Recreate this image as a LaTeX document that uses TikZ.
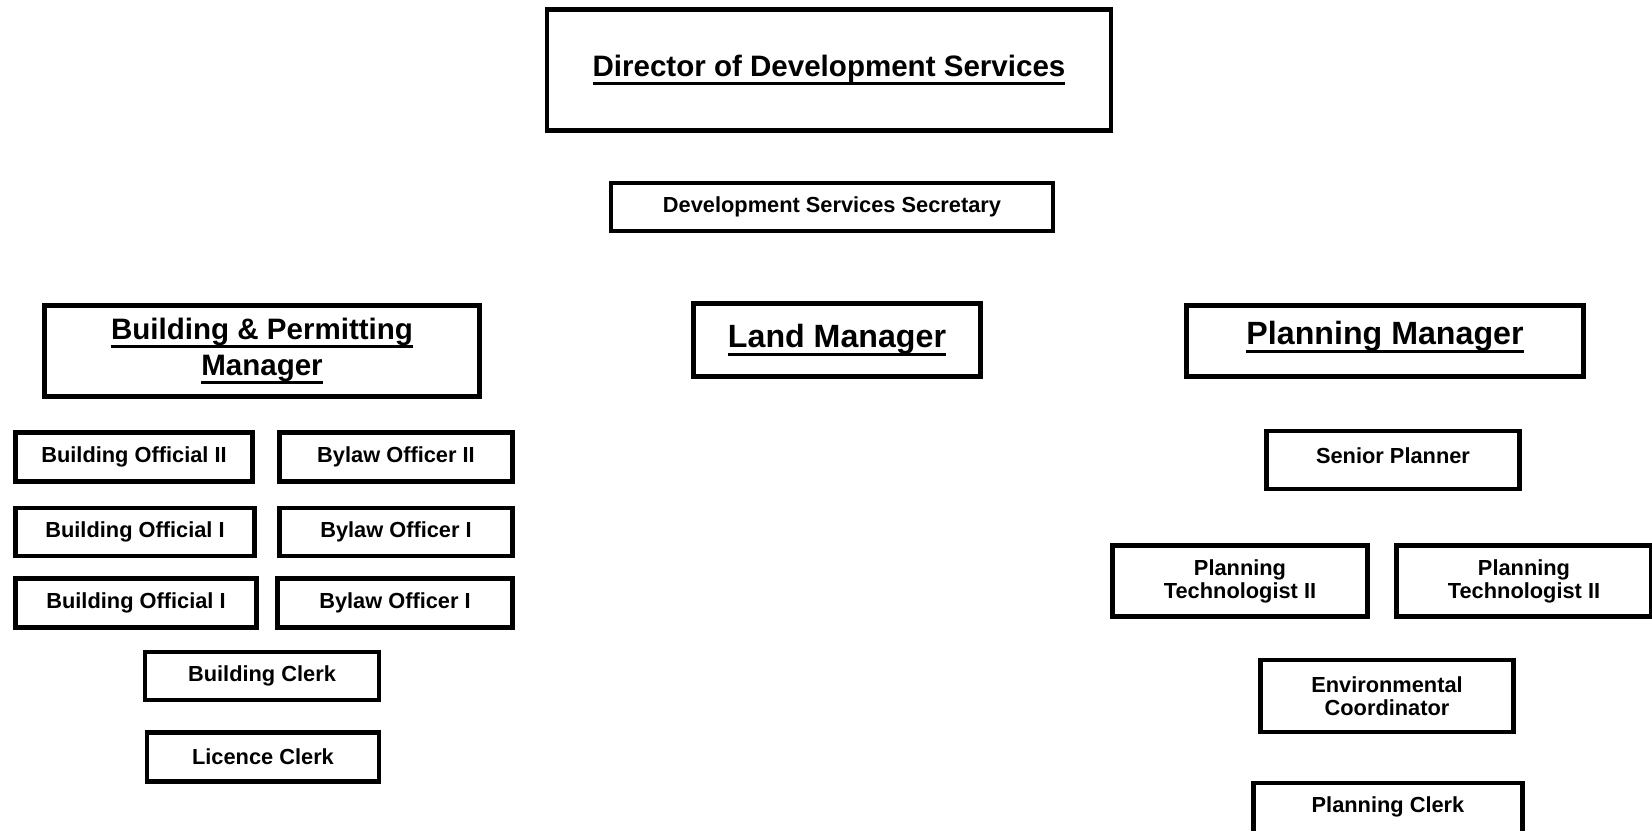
\documentclass[tikz,border=0pt]{standalone}
\usepackage{fontspec}
\setmainfont{Liberation Sans}

% underline that sits close under the baseline
\newcommand\uln[1]{\setbox0\hbox{#1}\rlap{\rule[-2.3pt]{\wd0}{0.75pt}}\box0}

\tikzset{
    post/.style={draw, line width=0.045cm, inner sep=0pt, align=center,
        font=\bfseries\fontsize{6.2}{6.6}\selectfont},
    headpost/.style={post, font=\bfseries\fontsize{8.4}{10.2}\selectfont},
    bighead/.style={post, font=\bfseries\fontsize{9.15}{10.2}\selectfont},
}

\begin{document}
\begin{tikzpicture}[x=0.01cm,y=-0.01cm]
    \useasboundingbox (0,0) rectangle (1652,830);
    % top of the department
    \node[headpost, minimum width=5.64cm, minimum height=1.21cm] (director) at (829,70)
        {\uln{Director of Development Services}};
    \node[post, minimum width=4.42cm, minimum height=0.48cm] (secretary) at (832,207)
        {Development Services Secretary};
    % the three managers
    \node[headpost, minimum width=4.35cm, minimum height=0.91cm] (buildmgr) at (262,351)
        {\uln{Building \& Permitting}\\\uln{Manager}};
    \node[bighead, minimum width=2.87cm, minimum height=0.73cm] (landmgr) at (837,340)
        {\uln{Land Manager}};
    \node[bighead, minimum width=3.97cm, minimum height=0.71cm, text depth=0.16cm] (planmgr) at (1385,341)
        {\uln{Planning Manager}};
    % building and bylaw staff
    \node[post, minimum width=2.37cm, minimum height=0.49cm] (official2) at (134,457) {Building Official II};
    \node[post, minimum width=2.33cm, minimum height=0.49cm] (bylaw2) at (396,457) {Bylaw Officer II};
    \node[post, minimum width=2.39cm, minimum height=0.48cm] (official1a) at (135,532) {Building Official I};
    \node[post, minimum width=2.33cm, minimum height=0.48cm] (bylaw1a) at (396,532) {Bylaw Officer I};
    \node[post, minimum width=2.41cm, minimum height=0.49cm] (official1b) at (136,603) {Building Official I};
    \node[post, minimum width=2.35cm, minimum height=0.49cm] (bylaw1b) at (395,603) {Bylaw Officer I};
    \node[post, minimum width=2.34cm, minimum height=0.48cm] (buildclerk) at (262,676) {Building Clerk};
    \node[post, minimum width=2.32cm, minimum height=0.49cm] (licclerk) at (263,757) {Licence Clerk};
    % planning staff
    \node[post, minimum width=2.53cm, minimum height=0.58cm, text depth=0.09cm] (senior) at (1393,460) {Senior Planner};
    \node[post, minimum width=2.55cm, minimum height=0.71cm] (techa) at (1240,581) {Planning\\Technologist II};
    \node[post, minimum width=2.55cm, minimum height=0.71cm] (techb) at (1524,581) {Planning\\Technologist II};
    \node[post, minimum width=2.53cm, minimum height=0.72cm] (envcoord) at (1387,696) {Environmental\\Coordinator};
    \node[post, minimum width=2.69cm, minimum height=0.56cm, text depth=0.13cm] (planclerk) at (1388,811) {Planning Clerk};
\end{tikzpicture}
\end{document}
